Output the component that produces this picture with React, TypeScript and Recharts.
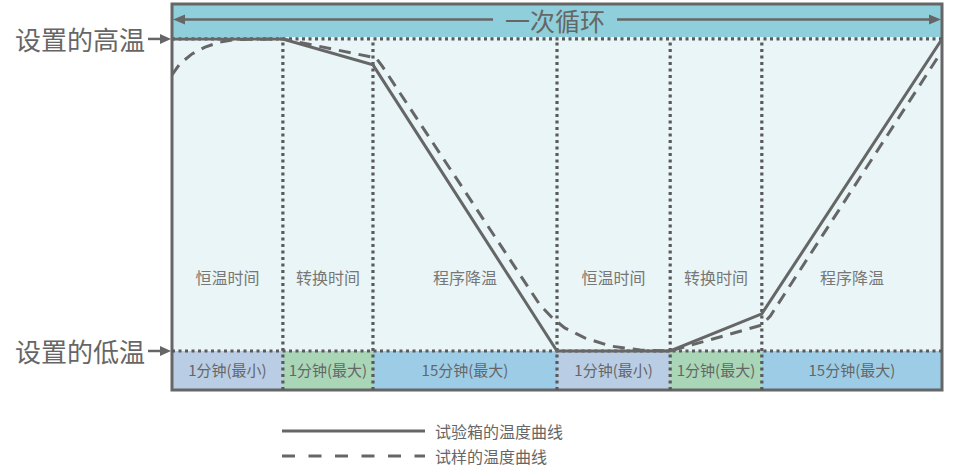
import {
  ComposedChart,
  Line,
  XAxis,
  YAxis,
  ReferenceArea,
  ReferenceLine,
  Label,
  Legend,
} from "recharts";

// x: share of one cycle (0-100), y: temperature relative to the set range (low = 0, high = 100)
const phaseEdges = [0, 14.4, 26.1, 50, 64.7, 76.6, 100];
const phaseNames = ["恒温时间", "转换时间", "程序降温", "恒温时间", "转换时间", "程序降温"];
const phaseDurations = ["1分钟(最小)", "1分钟(最大)", "15分钟(最大)", "1分钟(最小)", "1分钟(最大)", "15分钟(最大)"];

const chamberTime = [0, 14.4, 26.1, 50, 64.7, 76.6, 100];
const chamberTemp = [100, 100, 91.7, 0, 0, 11.9, 100];

const sampleTime = [0, 1.0, 2.6, 4.3, 6.2, 8.2, 14.4, 26.5, 27.3, 47.8, 49.4, 51.0, 53.6, 56.9, 60.8, 64.7, 76.6, 77.7, 99.9];
const sampleTemp = [88.5, 92.0, 95.2, 97.4, 99.0, 99.8, 100, 93.9, 91.3, 14.7, 10.6, 7.4, 4.2, 1.6, 0.3, 0, 8.3, 11.2, 95.8];

const seriesNames = ["试验箱的温度曲线", "试样的温度曲线"];
const cycleLabel = "一次循环";
const highLabel = "设置的高温";
const lowLabel = "设置的低温";

const HIGH = 100;
const LOW = 0;
const TOP = 111.2;
const BOTTOM = -12.5;
const BAND = 100.6;

const GRAY = "#666";
const DOTS = "3 3.5";
const cellColors = ["#b9cde4", "#a9d6b7", "#9dcde6", "#b9cde4", "#a9d6b7", "#9dcde6"];

const chamber = chamberTime.map((t, i) => ({ time: t, temp: chamberTemp[i] }));
const sample = sampleTime.map((t, i) => ({ time: t, temp: sampleTemp[i] }));

const sideLabel = (text: string) => (props: any) => {
  const { x, y } = props.viewBox;
  return (
    <g>
      <text x={x - 27} y={y} textAnchor="end" dominantBaseline="central" fontSize={26} fill={GRAY}>
        {text}
      </text>
      <line x1={x - 24} y1={y} x2={x - 10} y2={y} stroke={GRAY} strokeWidth={2.5} />
      <polygon points={`${x - 1},${y} ${x - 12},${y - 5} ${x - 12},${y + 5}`} fill={GRAY} />
    </g>
  );
};

const cycleArrow = (props: any) => {
  const { x, y, width, height } = props.viewBox;
  const cy = y + height / 2 - 1;
  const cx = x + width / 2 - 2;
  const right = x + width - 1;
  return (
    <g>
      <line x1={x + 10} y1={cy} x2={cx - 62} y2={cy} stroke={GRAY} strokeWidth={2.5} />
      <line x1={cx + 62} y1={cy} x2={right - 10} y2={cy} stroke={GRAY} strokeWidth={2.5} />
      <polygon points={`${x + 1},${cy} ${x + 13},${cy - 5} ${x + 13},${cy + 5}`} fill={GRAY} />
      <polygon points={`${right},${cy} ${right - 12},${cy - 5} ${right - 12},${cy + 5}`} fill={GRAY} />
      <text x={cx} y={cy} textAnchor="middle" dominantBaseline="central" fontSize={25} fill={GRAY}>
        {cycleLabel}
      </text>
    </g>
  );
};

const legendContent = () => (
  <div style={{ fontSize: 16, color: GRAY }}>
    {seriesNames.map((name, i) => (
      <div key={name} style={{ display: "flex", alignItems: "center", height: 25 }}>
        <svg width={143} height={6} style={{ marginRight: 10 }}>
          <line
            x1={0}
            y1={3}
            x2={143}
            y2={3}
            stroke={GRAY}
            strokeWidth={3}
            strokeDasharray={i === 1 ? "13 13.5" : undefined}
          />
        </svg>
        <span>{name}</span>
      </div>
    ))}
  </div>
);

function App() {
  return (
    <div style={{ position: "absolute", left: 0, top: 0, fontFamily: "'Noto Sans CJK SC', 'Noto Sans', sans-serif" }}>
      <ComposedChart width={955} height={471} margin={{ top: 4, right: 13, bottom: 81, left: 172 }}>
        <XAxis type="number" dataKey="time" domain={[0, 100]} hide allowDataOverflow />
        <YAxis type="number" dataKey="temp" domain={[BOTTOM, TOP]} hide allowDataOverflow />

        <ReferenceArea x1={0} x2={100} y1={BOTTOM} y2={TOP} fill="#e9f5f6" fillOpacity={1} />
        <ReferenceArea x1={0} x2={100} y1={BAND} y2={TOP} fill="#8ecfdb" fillOpacity={1} label={cycleArrow} />

        {phaseNames.map((name, i) => (
          <ReferenceArea
            key={i}
            x1={phaseEdges[i]}
            x2={phaseEdges[i + 1]}
            y1={BOTTOM}
            y2={LOW}
            fill={cellColors[i]}
            fillOpacity={1}
          >
            <Label value={phaseDurations[i]} position="center" fill={GRAY} fontSize={15} />
            <Label value={name} position="top" offset={67} fill="#777" fontSize={16} />
          </ReferenceArea>
        ))}

        <ReferenceLine y={HIGH} stroke="#5a5a5a" strokeWidth={3.2} strokeDasharray={DOTS} label={sideLabel(highLabel)} />
        <ReferenceLine y={LOW} stroke="#5a5a5a" strokeWidth={3.2} strokeDasharray={DOTS} label={sideLabel(lowLabel)} />
        {phaseEdges.slice(1, -1).map((e) => (
          <ReferenceLine
            key={e}
            segment={[
              { x: e, y: BOTTOM },
              { x: e, y: HIGH },
            ]}
            stroke="#5a5a5a"
            strokeWidth={3.2}
            strokeDasharray={DOTS}
          />
        ))}

        <Line
          data={chamber}
          dataKey="temp"
          name={seriesNames[0]}
          type="linear"
          stroke={GRAY}
          strokeWidth={3}
          dot={false}
          isAnimationActive={false}
        />
        <Line
          data={sample}
          dataKey="temp"
          name={seriesNames[1]}
          type="linear"
          stroke={GRAY}
          strokeWidth={3}
          strokeDasharray="12 8"
          dot={false}
          isAnimationActive={false}
        />

        <ReferenceArea x1={0} x2={100} y1={BOTTOM} y2={TOP} fill="none" stroke={GRAY} strokeWidth={3} />

        <Legend
          layout="horizontal"
          verticalAlign="middle"
          content={legendContent}
          wrapperStyle={{ left: 282, top: 418, width: 320 }}
        />
      </ComposedChart>
    </div>
  );
}

export default App;
